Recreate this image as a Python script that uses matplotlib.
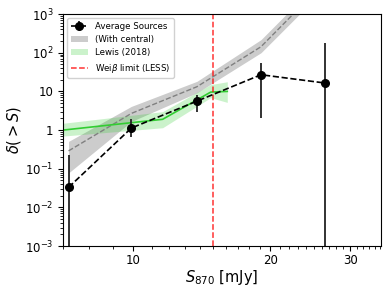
import numpy as np
import matplotlib
matplotlib.use("Agg")
import matplotlib.pyplot as plt
from matplotlib.ticker import FixedLocator, FuncFormatter, NullFormatter

# average sources
S = [7.2, 9.9, 13.8, 19.1, 26.4]
delta = [0.033, 1.13, 5.6, 27.0, 16.5]
delta_hi = [0.23, 1.95, 8.0, 53.0, 180.0]
delta_lo = [1e-4, 0.66, 2.9, 2.1, 1e-4]

# with central source
central_mid = [0.29, 2.7, 13.2, 143.0, 6700.0]
central_hi = [0.51, 4.1, 18.2, 218.0, 10000.0]
central_lo = [0.078, 1.67, 9.2, 100.0, 4500.0]

# Lewis (2018)
S_lewis = [7.0, 11.6, 14.8, 16.1]
lewis_mid = [1.0, 1.9, 9.6, 10.0]
lewis_hi = [1.5, 3.0, 15.0, 17.8]
lewis_lo = [0.7, 1.15, 6.9, 5.2]

weiss_limit = 15.0

S = np.array(S)
delta = np.array(delta)
yerr = [delta - np.array(delta_lo), np.array(delta_hi) - delta]

fig = plt.figure(figsize=(3.9, 2.93), dpi=100)
ax = fig.add_axes([0.1615, 0.16, 0.8155, 0.792])

ax.fill_between(S, central_lo, central_hi, color="gray", alpha=0.4, lw=0,
                label="(With central)")
ax.plot(S, central_mid, ls="--", color="gray", lw=1)

ax.fill_between(S_lewis, lewis_lo, lewis_hi, color="limegreen", alpha=0.25, lw=0,
                label="Lewis (2018)")
ax.plot(S_lewis, lewis_mid, color="limegreen", lw=1.2)

ax.errorbar(S, delta, yerr=yerr, fmt="o--", color="k", ms=5.5, lw=1.2,
            elinewidth=1.3, ecolor="#222222", label="Average Sources")

ax.axvline(weiss_limit, color="red", ls="--", lw=1.1, alpha=0.8,
           label=r"Wei$\beta$ limit (LESS)")

ax.set_xscale("log")
ax.set_yscale("log")
ax.set_xlim(7.0, 35.1)
ax.set_ylim(1e-3, 1e3)

ax.xaxis.set_major_locator(FixedLocator([10, 20, 30]))
ax.xaxis.set_major_formatter(FuncFormatter(lambda v, p: "%d" % v))
ax.xaxis.set_minor_locator(FixedLocator([7, 8, 9] + list(range(11, 20)) + list(range(21, 30)) + list(range(31, 36))))
ax.xaxis.set_minor_formatter(NullFormatter())


def yfmt(v, p):
    e = int(round(np.log10(v)))
    if e == 0:
        return "1"
    if e == 1:
        return "10"
    return r"$10^{%d}$" % e


ax.yaxis.set_major_formatter(FuncFormatter(yfmt))
ax.tick_params(labelsize=8.5)
ax.tick_params(axis="x", pad=2)

ax.set_xlabel(r"$S_{870}$ [mJy]", fontsize=10.5, labelpad=1)
ax.set_ylabel(r"$\delta(>S)$", fontsize=10.5, labelpad=1)

h, l = ax.get_legend_handles_labels()
order = [l.index("Average Sources"), l.index("(With central)"),
         l.index("Lewis (2018)"), l.index(r"Wei$\beta$ limit (LESS)")]
ax.legend([h[i] for i in order], [l[i] for i in order], loc="upper left",
          fontsize=6.2, framealpha=0.9)

fig.savefig("out.png", dpi=100)
